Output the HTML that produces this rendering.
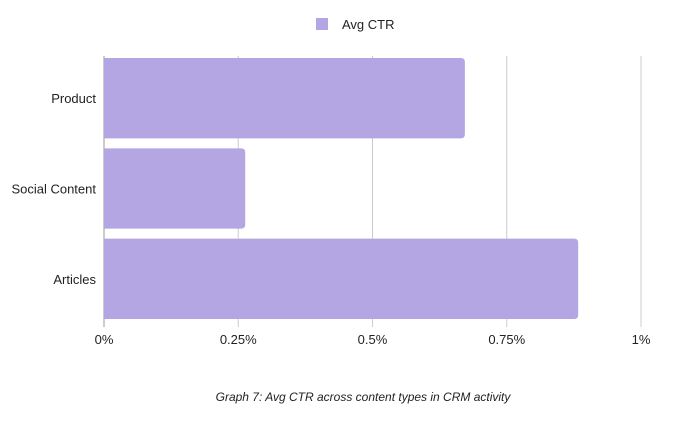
<!DOCTYPE html>
<html><head><meta charset="utf-8"><style>
body{margin:0;background:#fff;width:700px;height:420px;overflow:hidden;font-family:"Liberation Sans",sans-serif}
</style></head><body>
<svg id="chart" width="700" height="420">
<g id="legend">
<rect x="316" y="18" width="12" height="12" fill="#b4a5e3"/>
<text x="342" y="29" font-size="13" fill="#222">Avg CTR</text>
</g>
<g id="grid"></g><g id="bars"></g><g id="ylabels"></g><g id="xlabels"></g>
<text x="363" y="401" font-size="12" font-style="italic" fill="#222" text-anchor="middle">Graph 7: Avg CTR across content types in CRM activity</text>
</svg>
<script>
const categories=["Product","Social Content","Articles"];
const values=[0.672,0.263,0.883];
const ticks=[0,0.25,0.5,0.75,1];
const tickLabels=["0%","0.25%","0.5%","0.75%","1%"];
const x0=104,x1=641,yTop=56,yBot=327;
const xs=v=>x0+(v/1)*(x1-x0);
const band=(yBot-yTop)/categories.length;
const ns="http://www.w3.org/2000/svg";
const mk=(t,a,p)=>{const e=document.createElementNS(ns,t);for(const k in a)e.setAttribute(k,a[k]);p.appendChild(e);return e;};
const g=document.getElementById('grid'),b=document.getElementById('bars'),yl=document.getElementById('ylabels'),xl=document.getElementById('xlabels');
ticks.forEach((t,i)=>{
const l=mk('line',{x1:xs(t),x2:xs(t),y1:yTop,y2:yBot,stroke:i==0?'#999':'#ccc','stroke-width':1},g);


const tx=mk('text',{x:xs(t),y:344,'font-size':13,fill:'#222','text-anchor':'middle'},xl);
tx.textContent=tickLabels[i];


});
categories.forEach((c,i)=>{
const y=yTop+i*band+2,h=band-10,w=xs(values[i])-x0,r=4;
const p=mk('path',{d:`M${x0},${y}H${x0+w-r}Q${x0+w},${y} ${x0+w},${y+r}V${y+h-r}Q${x0+w},${y+h} ${x0+w-r},${y+h}H${x0}Z`,fill:'#b4a5e3'},b);


const t=mk('text',{x:96,y:y+h/2+5,'font-size':13,fill:'#222','text-anchor':'end'},yl);
t.textContent=c;


});
</script>
</body></html>
